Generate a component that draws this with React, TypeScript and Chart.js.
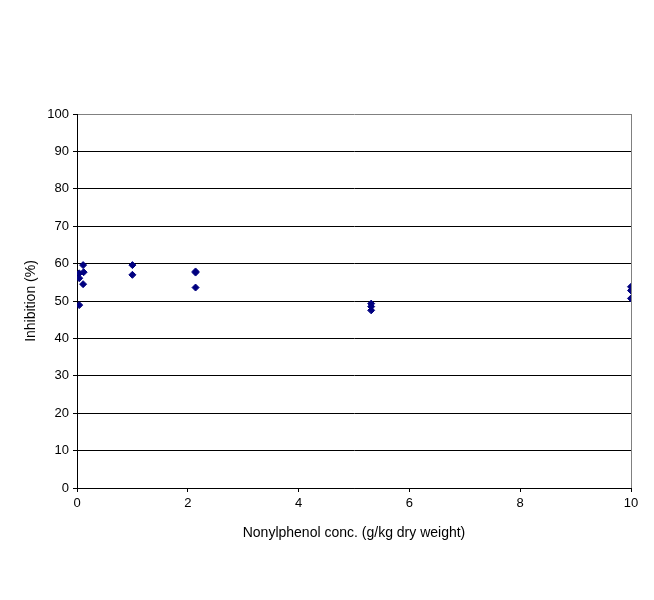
import React, { useEffect, useRef } from "react";
import { Chart, registerables } from "chart.js";

Chart.register(...registerables);

const concentrations = [0.04, 0.04, 0.04, 0.11, 0.12, 0.11, 1.0, 1.0, 2.14, 2.14, 2.14, 5.31, 5.31, 5.31, 10, 10, 10];
const inhibition = [57.4, 56.1, 48.9, 59.6, 57.7, 54.5, 59.6, 57.0, 57.9, 57.6, 53.6, 49.3, 48.5, 47.5, 53.8, 52.8, 50.7];
const xTicks = [0, 2, 4, 6, 8, 10];
const yTicks = [0, 10, 20, 30, 40, 50, 60, 70, 80, 90, 100];

const points = concentrations.map((x, i) => ({ x, y: inhibition[i] }));

export default function App() {
  const ref = useRef<HTMLCanvasElement>(null);
  useEffect(() => {
    const font = { family: "'Liberation Sans', Arial, sans-serif", size: 13 };
    const titleFont = { family: "'Liberation Sans', Arial, sans-serif", size: 14 };
    const chart = new Chart(ref.current!, {
      type: "scatter",
      data: {
        datasets: [
          {
            data: points,
            pointStyle: "rectRot",
            pointRadius: 3.5,
            backgroundColor: "#000080",
            borderColor: "#000080",
            borderWidth: 1,
          },
        ],
      },
      options: {
        animation: false,
        responsive: false,
        layout: { padding: { left: 19, top: 114, right: 23, bottom: 54 } },
        plugins: { legend: { display: false }, tooltip: { enabled: false } },
        scales: {
          x: {
            type: "linear",
            min: 0,
            max: 10,
            afterBuildTicks: (s: any) => {
              s.ticks = xTicks.map((v) => ({ value: v }));
            },
            afterFit: (s: any) => {
              s.height = 58;
            },
            ticks: { color: "#000", font, padding: 4, maxRotation: 0 },
            grid: {
              color: (c: any) => (c.tick && c.tick.value === 10 ? "#808080" : "rgba(0,0,0,0)"),
              tickColor: "#000",
              tickLength: 4,
              lineWidth: 1,
            },
            border: { color: "#000", width: 1 },
            title: {
              display: true,
              text: "Nonylphenol conc. (g/kg dry weight)",
              color: "#000",
              font: titleFont,
              padding: { top: 4, bottom: 4 },
            },
          },
          y: {
            type: "linear",
            min: 0,
            max: 100,
            afterBuildTicks: (s: any) => {
              s.ticks = yTicks.map((v) => ({ value: v }));
            },
            afterFit: (s: any) => {
              s.width = 58;
            },
            ticks: { color: "#000", font, padding: 4 },
            grid: {
              color: (c: any) => (c.tick && c.tick.value === 100 ? "#808080" : "#000"),
              tickColor: "#000",
              tickLength: 4,
              lineWidth: 1,
            },
            border: { color: "#000", width: 1 },
            title: {
              display: true,
              text: "Inhibition (%)",
              color: "#000",
              font: titleFont,
              padding: { top: 4, bottom: 4 },
            },
          },
        },
      },
    });
    return () => chart.destroy();
  }, []);
  return (
    <div style={{ position: "fixed", left: 0, top: 0, width: 654, height: 600, background: "#fff" }}>
      <canvas ref={ref} width={654} height={600} style={{ width: 654, height: 600 }} />
    </div>
  );
}
